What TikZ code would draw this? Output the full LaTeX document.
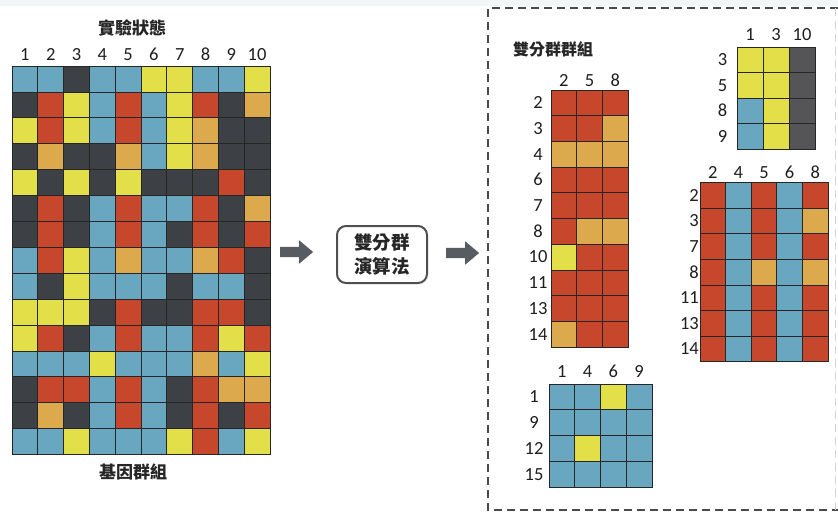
\documentclass[tikz,border=0pt]{standalone}
\usepackage{fontspec}
\setmainfont{Carlito}
\newfontfamily\cjk{Noto Sans CJK TC}
\usetikzlibrary{shapes.arrows}
\definecolor{cB}{HTML}{69A6BF}
\definecolor{cK}{HTML}{3D4044}
\definecolor{cY}{HTML}{E3DF48}
\definecolor{cR}{HTML}{C6472C}
\definecolor{cO}{HTML}{DCAA4C}
\definecolor{cG}{HTML}{555557}
\definecolor{cellline}{HTML}{262626}
\definecolor{arrowgray}{HTML}{575C62}
\definecolor{boxgray}{HTML}{505050}
\definecolor{dashgray}{HTML}{4A4A4A}
\definecolor{topband}{HTML}{F3F6F7}
\newcommand\mygrid[5]{%
  \foreach \row [count=\r from 0] in {#5} {%
    \foreach \c [count=\k from 0] in \row {%
      \filldraw[fill=c\c, draw=cellline, line width=0.8pt]
        ({#1+\k*#3},{#2+\r*#4}) rectangle ++(#3,#4);
    }%
  }%
}
\tikzset{
  num/.style={font=\fontsize{18.5}{18.5}\selectfont, text height=11.8pt, text depth=0pt, inner sep=0pt, text=black!88},
  title/.style={font=\cjk\bfseries\fontsize{17}{18}\selectfont, inner sep=0pt, text=black!85},
  algbox/.style={draw=boxgray, line width=2pt, rounded corners=9pt, minimum width=90pt, minimum height=57pt,
    align=center, font=\cjk\bfseries\fontsize{18.5}{24}\selectfont, text=black!85},
  blockarrow/.style={single arrow, fill=arrowgray, draw=none, minimum height=33pt, minimum width=23pt,
    single arrow head extend=6.5pt, single arrow tip angle=80, inner sep=0pt},
  dashframe/.style={draw=dashgray, line width=1.8pt, dash pattern=on 8pt off 5pt}
}
\begin{document}
\begin{tikzpicture}[x=1pt,y=-1pt]
\useasboundingbox (0,0) rectangle (838,512);
\fill[white] (0,0) rectangle (838,512);
\fill[topband] (0,0) rectangle (838,6);

% ---------- left matrix ----------
\node[title] (tExp) at (132,28) {實驗狀態};
\foreach \t [count=\k from 0] in {1,2,3,4,5,6,7,8,9,10}
  \node[num] (lc\k) at ({12+25.8*\k+12.9},55) {\t};
\mygrid{12}{66}{25.8}{25.9}{
 {B,B,K,B,B,Y,Y,B,B,Y},
 {K,R,Y,B,R,B,Y,R,K,O},
 {Y,R,Y,B,R,B,Y,O,K,K},
 {K,O,K,K,O,B,Y,O,K,K},
 {Y,K,Y,K,Y,K,K,K,R,K},
 {K,R,K,B,R,B,B,R,K,O},
 {K,R,K,B,R,B,K,R,K,R},
 {B,R,Y,B,O,B,B,O,R,K},
 {B,K,Y,B,B,B,K,B,B,K},
 {Y,Y,Y,K,R,K,K,R,R,K},
 {Y,R,K,B,R,B,B,R,Y,R},
 {B,B,B,Y,B,B,B,O,B,Y},
 {K,R,R,B,R,B,K,R,O,O},
 {K,O,K,B,R,B,K,R,K,R},
 {B,B,Y,B,B,B,Y,R,B,Y}}
\node[title] (tGene) at (133,472) {基因群組};

% ---------- algorithm ----------
\node[blockarrow] (arrA) at (293.5,252) {\rule{0pt}{10pt}};
\node[algbox] (alg) at (382,254.5) {雙分群\\演算法};
\node[blockarrow] (arrB) at (459.5,253) {\rule{0pt}{10pt}};

% ---------- dashed frame ----------
\coordinate (fTL) at (488,8);
\coordinate (fBL) at (488,510);
\coordinate (fTR) at (838,8);
\coordinate (fBR) at (838,510);
\draw[dashframe] (fTR) -- (fTL) -- (fBL) -- (fBR);
\draw[dashframe, draw=dashgray!25, line width=1pt] (835,8) -- (835,510);

\node[title, font=\cjk\bfseries\fontsize{16}{18}\selectfont] (tBi) at (553,49) {雙分群群組};

% ---------- bicluster 1 ----------
\foreach \t [count=\k from 0] in {2,5,8}
  \node[num] (b1c\k) at ({551+25.7*\k+12.85},81) {\t};
\foreach \t [count=\k from 0] in {2,3,4,6,7,8,10,11,13,14}
  \node[num] (b1r\k) at (538,{90+25.7*\k+12.85}) {\t};
\mygrid{551}{90}{25.7}{25.7}{
 {R,R,R},{R,R,O},{O,O,O},{R,R,R},{R,R,R},
 {R,O,O},{Y,R,R},{R,R,R},{R,R,R},{O,R,R}}

% ---------- bicluster 2 ----------
\foreach \t [count=\k from 0] in {1,3,10}
  \node[num] (b2c\k) at ({737+26*\k+13},35) {\t};
\foreach \t [count=\k from 0] in {3,5,8,9}
  \node[num] (b2r\k) at (722.5,{47+25.6*\k+12.8}) {\t};
\mygrid{737}{47}{26}{25.6}{
 {Y,Y,G},{Y,Y,G},{B,Y,G},{B,Y,G}}

% ---------- bicluster 3 ----------
\foreach \t [count=\k from 0] in {2,4,5,6,8}
  \node[num] (b3c\k) at ({700+25.6*\k+12.8},173) {\t};
\foreach \t [count=\k from 0] in {2,3,7,8,11,13,14}
  \node[num, anchor=east] (b3r\k) at (699,{182.5+25.6*\k+12.8}) {\t};
\mygrid{700}{182.5}{25.6}{25.6}{
 {R,B,R,B,R},{R,B,R,B,O},{R,B,R,B,R},{R,B,O,B,O},
 {R,B,R,B,R},{R,B,R,B,R},{R,B,R,B,R}}

% ---------- bicluster 4 ----------
\foreach \t [count=\k from 0] in {1,4,6,9}
  \node[num] (b4c\k) at ({549+25.75*\k+12.875},372) {\t};
\foreach \t [count=\k from 0] in {1,9,12,15}
  \node[num] (b4r\k) at (534,{384+25.75*\k+12.875}) {\t};
\mygrid{549}{384}{25.75}{25.75}{
 {B,B,Y,B},{B,B,B,B},{B,Y,B,B},{B,B,B,B}}
\end{tikzpicture}
\end{document}
